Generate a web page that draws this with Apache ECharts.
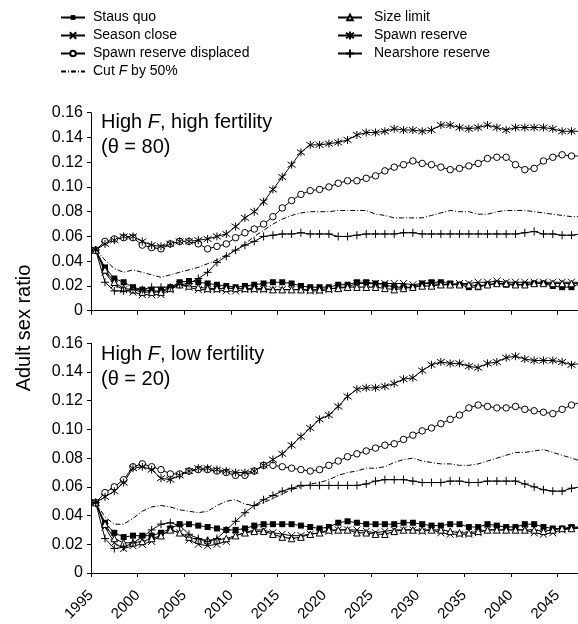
<!DOCTYPE html>
<html><head><meta charset="utf-8">
<script src="https://cdn.jsdelivr.net/npm/echarts@6/dist/echarts.min.js"></script>
<style>html,body{margin:0;padding:0;background:#fff}#c{width:578px;height:624px}</style>
</head><body><div id="c"></div>
<script>
// ---------- data ----------
const firstYear = 1995;               // annual values, one per year (plotted mid-year)
const nYears = 53;
const years = Array.from({length: nYears}, (_, i) => firstYear + i);
const xTickLabels = [1995, 2000, 2005, 2010, 2015, 2020, 2025, 2030, 2035, 2040, 2045];

const seriesNames = ['Staus quo', 'Season close', 'Spawn reserve displaced', 'Cut F by 50%',
                     'Size limit', 'Spawn reserve', 'Nearshore reserve'];

// Panel 1: High F, high fertility (theta = 80)
const statusQuoHigh = [0.049,0.035,0.026,0.023,0.019,0.017,0.016,0.016,0.019,0.023,0.024,0.023,0.022,0.021,0.020,0.019,0.020,0.021,0.022,0.023,0.023,0.022,0.020,0.019,0.019,0.019,0.021,0.021,0.023,0.023,0.022,0.021,0.019,0.019,0.019,0.022,0.023,0.023,0.022,0.021,0.019,0.019,0.021,0.022,0.021,0.021,0.021,0.022,0.022,0.020,0.019,0.019,0.022];
const seasonCloseHigh = [0.049,0.031,0.021,0.017,0.015,0.013,0.013,0.013,0.017,0.021,0.019,0.017,0.017,0.017,0.016,0.016,0.017,0.017,0.017,0.017,0.017,0.017,0.017,0.016,0.016,0.017,0.019,0.019,0.022,0.022,0.022,0.022,0.022,0.022,0.021,0.022,0.022,0.021,0.021,0.022,0.022,0.023,0.023,0.024,0.023,0.023,0.023,0.023,0.023,0.023,0.023,0.023,0.023];
const displacedHigh = [0.049,0.056,0.058,0.059,0.059,0.053,0.051,0.050,0.054,0.056,0.056,0.054,0.050,0.052,0.054,0.059,0.063,0.066,0.070,0.076,0.083,0.089,0.094,0.097,0.098,0.100,0.103,0.105,0.105,0.107,0.109,0.113,0.116,0.118,0.121,0.119,0.118,0.116,0.114,0.115,0.117,0.119,0.123,0.124,0.124,0.118,0.114,0.115,0.121,0.124,0.126,0.125,0.125];
const cutFHigh = [0.049,0.041,0.034,0.031,0.033,0.031,0.029,0.027,0.029,0.031,0.033,0.035,0.038,0.041,0.045,0.049,0.054,0.060,0.065,0.070,0.074,0.077,0.079,0.080,0.080,0.080,0.081,0.081,0.081,0.081,0.078,0.077,0.075,0.075,0.075,0.075,0.077,0.079,0.081,0.080,0.080,0.078,0.078,0.080,0.081,0.081,0.081,0.080,0.079,0.078,0.077,0.076,0.076];
const sizeLimitHigh = [0.049,0.033,0.023,0.018,0.017,0.015,0.015,0.015,0.018,0.021,0.020,0.019,0.018,0.018,0.018,0.018,0.018,0.018,0.018,0.017,0.017,0.017,0.017,0.017,0.017,0.018,0.018,0.019,0.019,0.019,0.019,0.018,0.017,0.018,0.019,0.020,0.020,0.021,0.021,0.021,0.021,0.020,0.021,0.022,0.022,0.021,0.021,0.022,0.022,0.022,0.022,0.022,0.022];
const spawnHigh = [0.049,0.054,0.057,0.060,0.060,0.056,0.053,0.052,0.054,0.056,0.056,0.057,0.058,0.060,0.062,0.068,0.075,0.080,0.088,0.098,0.108,0.118,0.128,0.134,0.134,0.135,0.136,0.138,0.142,0.144,0.144,0.145,0.147,0.146,0.146,0.145,0.146,0.150,0.150,0.148,0.147,0.148,0.150,0.148,0.146,0.148,0.148,0.148,0.148,0.147,0.145,0.145,0.145];
const nearshoreHigh = [0.049,0.023,0.016,0.016,0.017,0.017,0.019,0.019,0.019,0.021,0.022,0.026,0.031,0.039,0.044,0.049,0.053,0.056,0.060,0.061,0.062,0.062,0.063,0.062,0.062,0.062,0.060,0.060,0.061,0.062,0.062,0.062,0.062,0.063,0.063,0.062,0.062,0.062,0.062,0.062,0.062,0.062,0.062,0.062,0.062,0.062,0.063,0.064,0.062,0.062,0.061,0.061,0.062];

// Panel 2: High F, low fertility (theta = 20)
const statusQuoLow = [0.049,0.035,0.028,0.025,0.026,0.026,0.026,0.028,0.031,0.034,0.034,0.033,0.032,0.031,0.030,0.030,0.031,0.033,0.034,0.034,0.034,0.034,0.033,0.032,0.031,0.032,0.035,0.036,0.035,0.034,0.034,0.034,0.034,0.035,0.035,0.034,0.033,0.033,0.034,0.034,0.032,0.032,0.034,0.033,0.032,0.032,0.034,0.034,0.032,0.031,0.031,0.032,0.032];
const seasonCloseLow = [0.049,0.032,0.021,0.017,0.019,0.020,0.022,0.026,0.030,0.028,0.023,0.020,0.019,0.020,0.022,0.026,0.028,0.030,0.030,0.028,0.027,0.026,0.026,0.027,0.028,0.029,0.030,0.030,0.030,0.029,0.028,0.029,0.030,0.030,0.030,0.029,0.030,0.028,0.027,0.027,0.027,0.028,0.030,0.030,0.030,0.030,0.030,0.028,0.027,0.028,0.030,0.031,0.031];
const displacedLow = [0.049,0.056,0.060,0.065,0.074,0.076,0.074,0.072,0.069,0.069,0.071,0.072,0.072,0.071,0.070,0.068,0.068,0.071,0.075,0.075,0.074,0.073,0.072,0.071,0.072,0.075,0.078,0.081,0.083,0.085,0.087,0.089,0.090,0.093,0.096,0.099,0.101,0.104,0.107,0.110,0.115,0.117,0.116,0.115,0.115,0.116,0.114,0.113,0.112,0.111,0.114,0.117,0.119];
const cutFLow = [0.049,0.039,0.034,0.034,0.038,0.043,0.046,0.047,0.046,0.044,0.043,0.042,0.043,0.047,0.050,0.051,0.048,0.047,0.049,0.052,0.055,0.058,0.060,0.062,0.063,0.065,0.068,0.070,0.071,0.073,0.073,0.074,0.077,0.079,0.080,0.078,0.077,0.076,0.076,0.075,0.075,0.076,0.078,0.080,0.082,0.084,0.084,0.085,0.086,0.084,0.082,0.080,0.078];
const sizeLimitLow = [0.049,0.034,0.024,0.021,0.021,0.022,0.024,0.026,0.030,0.028,0.025,0.023,0.023,0.023,0.024,0.026,0.028,0.029,0.029,0.027,0.025,0.024,0.025,0.027,0.028,0.030,0.030,0.030,0.028,0.028,0.027,0.027,0.029,0.030,0.030,0.030,0.030,0.030,0.029,0.028,0.028,0.029,0.030,0.030,0.030,0.030,0.030,0.030,0.029,0.030,0.031,0.031,0.032];
const spawnLow = [0.049,0.053,0.057,0.063,0.073,0.074,0.072,0.066,0.065,0.068,0.071,0.073,0.073,0.072,0.071,0.070,0.070,0.071,0.075,0.079,0.083,0.089,0.095,0.101,0.107,0.110,0.116,0.123,0.128,0.129,0.129,0.130,0.132,0.135,0.136,0.141,0.145,0.147,0.146,0.146,0.144,0.143,0.146,0.147,0.150,0.151,0.149,0.148,0.148,0.148,0.147,0.145,0.146];
const nearshoreLow = [0.049,0.024,0.017,0.018,0.021,0.025,0.030,0.034,0.035,0.033,0.027,0.024,0.022,0.024,0.030,0.036,0.042,0.047,0.051,0.054,0.057,0.059,0.061,0.061,0.061,0.061,0.061,0.061,0.061,0.062,0.064,0.065,0.065,0.065,0.064,0.063,0.063,0.063,0.064,0.064,0.063,0.063,0.064,0.064,0.064,0.064,0.062,0.060,0.058,0.057,0.057,0.059,0.060];

const panels = [
  {title: 'High {i|F}, high fertility\n(\u03B8 = 80)',
   values: [statusQuoHigh, seasonCloseHigh, displacedHigh, cutFHigh, sizeLimitHigh, spawnHigh, nearshoreHigh]},
  {title: 'High {i|F}, low fertility\n(\u03B8 = 20)',
   values: [statusQuoLow, seasonCloseLow, displacedLow, cutFLow, sizeLimitLow, spawnLow, nearshoreLow]}
];

// ---------- styling ----------
const FONT = '"Liberation Sans", Arial, Helvetica, sans-serif';
const X_PATH = 'path://M0,0L10,10M10,0L0,10';
const STAR_PATH = 'path://M0,1.5L10,8.5M10,1.5L0,8.5M5,0L5,10';
const PLUS_PATH = 'path://M5,0L5,10M0,5L10,5';

const markerStyle = {
  'Staus quo': {symbol: 'rect', symbolSize: 6, itemStyle: {color: '#000'}, legendH: 6},
  'Season close': {symbol: X_PATH, symbolSize: 7, itemStyle: {color: '#000', borderColor: '#000', borderWidth: 1}, legendH: 8},
  'Spawn reserve displaced': {symbol: 'circle', symbolSize: 6.5, itemStyle: {color: '#fff', borderColor: '#000', borderWidth: 1}, legendH: 7},
  'Cut F by 50%': {symbol: 'none', itemStyle: {color: '#000'}, lineType: [5, 2, 1, 2], legendH: 2.5},
  'Size limit': {symbol: 'triangle', symbolSize: 6.5, itemStyle: {color: '#fff', borderColor: '#000', borderWidth: 1}, legendH: 7},
  'Spawn reserve': {symbol: STAR_PATH, symbolSize: 8, itemStyle: {color: '#000', borderColor: '#000', borderWidth: 1}, legendH: 10},
  'Nearshore reserve': {symbol: PLUS_PATH, symbolSize: 8, itemStyle: {color: '#000', borderColor: '#000', borderWidth: 1}, legendH: 10}
};

const grids = [
  {left: 91, top: 112.7, width: 487, height: 198},
  {left: 91, top: 343.3, width: 487, height: 230}
];

const series = [];
panels.forEach((p, k) => {
  seriesNames.forEach((name, s) => {
    const st = markerStyle[name];
    series.push({
      type: 'line', name, xAxisIndex: k, yAxisIndex: k,
      data: years.map((yr, i) => [yr + 0.5, p.values[s][i]]),
      symbol: st.symbol, symbolSize: st.symbolSize || 0, showSymbol: st.symbol !== 'none',
      itemStyle: st.itemStyle,
      lineStyle: {color: '#000', width: 1, type: st.lineType || 'solid'},
      clip: true, silent: true, animation: false,
      emphasis: {disabled: true}
    });
  });
});

const xAxis = grids.map((g, k) => ({
  type: 'value', gridIndex: k, min: 1995, max: 2047.2,
  axisLine: {show: true, onZero: false, lineStyle: {color: '#000', width: 1}},
  axisTick: {show: true, length: 4, customValues: xTickLabels, lineStyle: {color: '#000'}},
  axisLabel: {show: k === 1, customValues: xTickLabels, rotate: 45, fontSize: 15, fontFamily: FONT,
              color: '#000', margin: 20, formatter: v => String(Math.round(v))},
  splitLine: {show: false}
}));
const yAxis = grids.map((g, k) => ({
  type: 'value', gridIndex: k, min: 0, max: 0.16, interval: 0.02,
  axisLine: {show: true, lineStyle: {color: '#000', width: 1}},
  axisTick: {show: true, length: 4, lineStyle: {color: '#000'}},
  axisLabel: {fontSize: 16, fontFamily: FONT, color: '#000', margin: 8,
              formatter: v => (v === 0 ? '0' : v.toFixed(2))},
  splitLine: {show: false}
}));

// legends: one per entry, laid out in two columns
const legendPos = {
  'Staus quo': [60, 17, 3], 'Season close': [60, 35, 3], 'Spawn reserve displaced': [60, 53, 3],
  'Cut F by 50%': [60, 71, 3],
  'Size limit': [337, 17, 7], 'Spawn reserve': [337, 35, 7], 'Nearshore reserve': [337, 53, 7]
};
const legend = seriesNames.map(name => {
  const [left, cy, pad] = legendPos[name];
  const h = markerStyle[name].legendH;
  return {
    data: [name], left, top: cy - 6.5, padding: 0, itemWidth: 24, itemHeight: h,
    selectedMode: false, orient: 'horizontal',
    formatter: n => n.replace('F by', '{i|F} by'),
    textStyle: {fontSize: 14, fontFamily: FONT, color: '#000', padding: [0, 0, 0, pad],
                rich: {i: {fontStyle: 'italic', fontSize: 14, fontFamily: FONT, color: '#000'}}}
  };
});

const titleTops = [110, 342];
const graphic = panels.map((p, k) => ({
  type: 'text', left: 101, top: titleTops[k], silent: true,
  style: {text: p.title, fontSize: 20, fontFamily: FONT, fill: '#000', lineHeight: 25,
          rich: {i: {fontStyle: 'italic', fontSize: 20, fontFamily: FONT, lineHeight: 25, fill: '#000'}}}
}));
graphic.push({
  type: 'text', x: 24, y: 328, rotation: Math.PI / 2, silent: true,
  style: {text: 'Adult sex ratio', fontSize: 20, fontFamily: FONT, fill: '#000',
          align: 'center', verticalAlign: 'middle'}
});

const chart = echarts.init(document.getElementById('c'), null, {renderer: 'canvas'});
chart.setOption({
  backgroundColor: '#fff', animation: false,
  grid: grids, xAxis, yAxis, series, legend, graphic
});
</script></body></html>
